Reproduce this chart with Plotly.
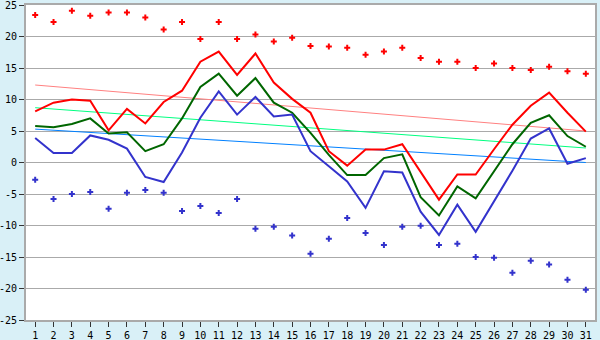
import plotly.graph_objects as go

days = list(range(1, 32))

rec_max = [23.4, 22.3, 24.1, 23.3, 23.8, 23.8, 23.0, 21.1, 22.3, 19.6,
           22.3, 19.6, 20.3, 19.2, 19.8, 18.5, 18.4, 18.2, 17.1, 17.6,
           18.2, 16.6, 16.0, 16.0, 15.0, 15.7, 15.0, 14.7, 15.2, 14.5, 14.1]

rec_min = [-2.75, -5.8, -5.0, -4.7, -7.35, -4.8, -4.35, -4.8, -7.7, -6.9,
           -8.0, -5.8, -10.5, -10.2, -11.6, -14.5, -12.1, -8.8, -11.2, -13.1,
           -10.2, -10.05, -13.1, -12.9, -15.0, -15.1, -17.5, -15.6, -16.2, -18.6, -20.2]

t_max = [8.1, 9.5, 10.0, 9.8, 5.1, 8.5, 6.2, 9.6, 11.4, 16.0,
         17.6, 13.9, 17.3, 12.7, 10.1, 7.9, 1.8, -0.5, 2.05, 2.05,
         2.9, -1.5, -5.9, -1.9, -1.9, 2.1, 6.0, 9.0, 11.1, 7.9, 4.9]

t_mean = [5.8, 5.6, 6.1, 7.0, 4.6, 4.8, 1.8, 2.9, 7.0, 12.0,
          14.1, 10.6, 13.4, 9.5, 7.9, 4.7, 1.2, -2.0, -2.0, 0.7,
          1.3, -5.5, -8.4, -3.8, -5.7, -1.5, 2.9, 6.3, 7.5, 4.2, 2.5]

t_min = [3.9, 1.5, 1.5, 4.3, 3.6, 2.2, -2.3, -3.1, 1.6, 7.1,
         11.3, 7.6, 10.4, 7.3, 7.6, 1.8, -0.6, -3.0, -7.2, -1.4,
         -1.6, -7.8, -11.5, -6.7, -11.0, -6.2, -1.3, 3.8, 5.4, -0.2, 0.7]

trend_days = [1, 31]
trend_max = [12.3, 5.0]
trend_mean = [8.7, 2.3]
trend_min = [5.3, 0.0]

y_ticks = [-25, -20, -15, -10, -5, 0, 5, 10, 15, 20, 25]

fig = go.Figure()

fig.add_trace(go.Scatter(x=trend_days, y=trend_max, mode="lines",
                         line=dict(color="#ff8080", width=1)))
fig.add_trace(go.Scatter(x=trend_days, y=trend_mean, mode="lines",
                         line=dict(color="#00ff80", width=1)))
fig.add_trace(go.Scatter(x=trend_days, y=trend_min, mode="lines",
                         line=dict(color="#0080ff", width=1)))

fig.add_trace(go.Scatter(x=days, y=t_max, mode="lines",
                         line=dict(color="#ff0000", width=2)))
fig.add_trace(go.Scatter(x=days, y=t_mean, mode="lines",
                         line=dict(color="#006600", width=2)))
fig.add_trace(go.Scatter(x=days, y=t_min, mode="lines",
                         line=dict(color="#3333cc", width=2)))

fig.add_trace(go.Scatter(x=days, y=rec_max, mode="markers",
                         marker=dict(symbol="cross", size=5, color="#ff0000",
                                     line=dict(width=0))))
fig.add_trace(go.Scatter(x=days, y=rec_min, mode="markers",
                         marker=dict(symbol="cross", size=5, color="#3333cc",
                                     line=dict(width=0))))

font = dict(family="DejaVu Sans Mono", size=10, color="#000000")

fig.update_layout(
    width=600, height=340,
    margin=dict(l=26, r=5, t=5, b=20, autoexpand=False),
    paper_bgcolor="#d9f0f7",
    plot_bgcolor="#ffffff",
    showlegend=False,
    font=font,
    xaxis=dict(range=[0.5, 31.5], tickmode="array", tickvals=days,
               ticktext=[str(d) for d in days],
               showgrid=False, zeroline=False, automargin=False,
               ticklabeloverflow="allow",
               showline=True, linecolor="#aaaaaa", linewidth=2, mirror=True,
               ticks="outside", ticklen=5, tickcolor="#333333", tickwidth=1,
               tickfont=font),
    yaxis=dict(range=[-25, 25], tickmode="array", tickvals=y_ticks,
               ticktext=[str(v) for v in y_ticks],
               showgrid=True, gridcolor="#aaaaaa", gridwidth=1,
               zeroline=False, automargin=False,
               ticklabeloverflow="allow",
               showline=True, linecolor="#aaaaaa", linewidth=2, mirror=True,
               ticks="outside", ticklen=5, tickcolor="#333333", tickwidth=1,
               tickfont=font),
)

fig.write_html("out.html",
               config={"displayModeBar": False},
               post_script="document.body.style.margin='0';document.body.style.overflow='hidden';")
